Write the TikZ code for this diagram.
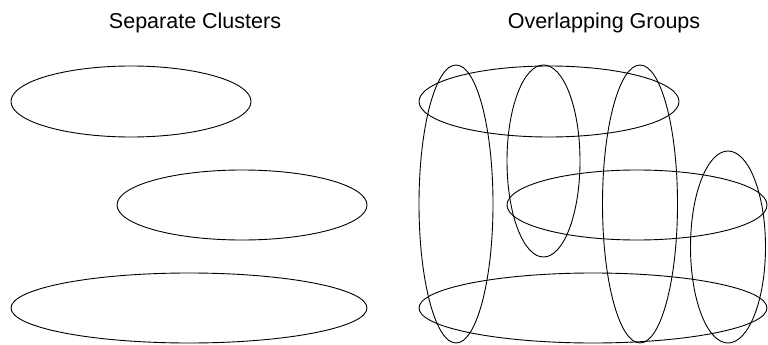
\documentclass[tikz,border=0pt]{standalone}
\usepackage{fontspec}
\setmainfont{Liberation Sans}
\begin{document}
\begin{tikzpicture}[x=1pt,y=-1pt,line width=0.9pt]
\tikzset{title/.style={font=\fontsize{21.5}{26}\selectfont}}
\useasboundingbox (0,0) rectangle (768,345);
\begin{scope}
\node[title] (sep) at (195,23) {Separate Clusters};
\draw (131,101.5) ellipse [x radius=120,y radius=35.5];
\draw (242,205) ellipse [x radius=125,y radius=35];
\draw (189,308) ellipse [x radius=178,y radius=35];
\end{scope}
\begin{scope}[xshift=384pt]
\node[title] (ovl) at (220,23) {Overlapping Groups};
\draw (165,101.5) ellipse [x radius=130,y radius=35.5];
\draw (253,205) ellipse [x radius=130,y radius=35];
\draw (209,308) ellipse [x radius=174,y radius=35];
\draw (72,204) ellipse [x radius=37,y radius=139];
\draw (159.5,161) ellipse [x radius=36.5,y radius=96];
\draw (256,204) ellipse [x radius=37.5,y radius=139];
\draw (344,247) ellipse [x radius=37.5,y radius=96];
\end{scope}
\end{tikzpicture}
\end{document}
